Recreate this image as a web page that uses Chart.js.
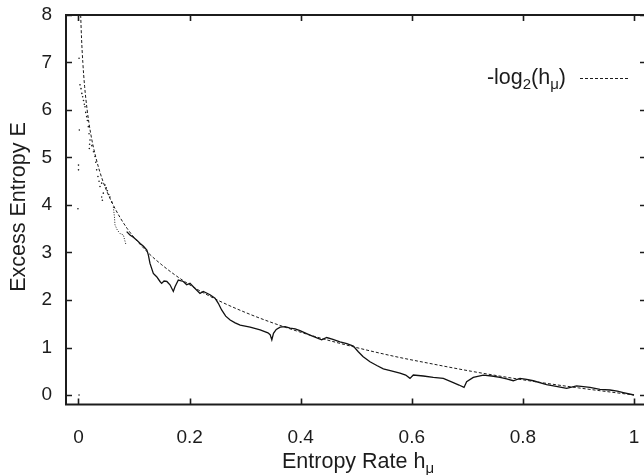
<!DOCTYPE html>
<html>
<head>
<meta charset="utf-8">
<script src="https://cdn.jsdelivr.net/npm/chart.js@4.4.1/dist/chart.umd.min.js"></script>
<style>
html,body{margin:0;padding:0;background:#fff;overflow:hidden;}
#wrap{width:650px;height:475px;}
</style>
</head>
<body>
<div id="wrap"><canvas id="c" width="650" height="475"></canvas></div>
<script>
// ---- data ----
const xTicks = [0, 0.2, 0.4, 0.6, 0.8, 1];
const yTicks = [0, 1, 2, 3, 4, 5, 6, 7, 8];

// -log2(h) reference curve (dashed)
const logX = [0.0039,0.0055,0.0078,0.011,0.0156,0.022,0.03125,0.044,0.0625,0.088,0.125,0.15,0.177,0.21,0.25,0.3,0.354,0.42,0.5,0.57,0.63,0.707,0.8,0.9,1.0];
const logY = [8,7.5,7,6.5,6,5.5,5,4.5,4,3.5,3,2.74,2.5,2.25,2,1.74,1.5,1.25,1,0.81,0.67,0.5,0.32,0.15,0];

// scattered points at small entropy rate
const dotX = [0.001,0.0027,0.0045,0.006,0.0075,0.009,0.0105,0.0117,0.013,0.0147,0.016,0.0177,0.019,0.0207,0.0195,0.02,0.024,0.027,0.0297,0.031,0.0327,0.035,0.037,0.0387,0.0417,0.043,0.0417,0.0447,0.0477,0.05,0.052,0.0545,0.0567,0.06,0.0015,0.0,0.0,-0.001,0.001];
const dotY = [7.09,6.53,6.45,6.35,6.28,6.2,6.12,6.07,5.95,5.86,5.78,5.65,5.5,5.37,5.19,5.28,5.25,5.12,5.02,4.9,4.74,4.6,4.5,4.39,4.17,4.1,4.46,4.25,4.42,4.36,4.3,4.22,4.17,4.06,5.58,4.84,4.74,3.92,0.0];

// thin branch
const branchX = [0.0627,0.0647,0.0657,0.07,0.0747,0.0807,0.0855];
const branchY = [3.96,3.75,3.58,3.47,3.40,3.37,3.16];

// main E(h) curve
const curveX = [0.0867,0.0927,0.0987,0.105,0.111,0.117,0.123,0.1257,0.1287,0.1347,0.1407,0.1467,0.1497,0.154,0.159,0.1647,0.1707,0.1737,0.1797,0.1887,0.1947,0.2007,0.2067,0.2187,0.2247,0.2367,0.2457,0.2517,0.2577,0.265,0.273,0.282,0.291,0.309,0.327,0.341,0.345,0.348,0.351,0.356,0.363,0.372,0.381,0.39,0.3987,0.4167,0.4378,0.4468,0.458,0.4707,0.483,0.4947,0.5037,0.512,0.5247,0.537,0.5487,0.563,0.5787,0.589,0.5967,0.6027,0.6207,0.6387,0.6567,0.6747,0.685,0.694,0.6987,0.7107,0.7287,0.744,0.7587,0.7707,0.7827,0.7947,0.8067,0.8187,0.8427,0.86,0.8787,0.8967,0.9207,0.9387,0.9567,0.97,0.9807,1.0];
const curveY = [3.44,3.37,3.32,3.26,3.19,3.13,3.05,2.95,2.77,2.56,2.49,2.39,2.35,2.40,2.39,2.32,2.18,2.28,2.42,2.39,2.32,2.35,2.28,2.14,2.18,2.11,2.04,1.93,1.79,1.66,1.58,1.52,1.47,1.43,1.37,1.31,1.27,1.16,1.30,1.38,1.43,1.44,1.41,1.39,1.354,1.26,1.16,1.21,1.17,1.12,1.08,1.03,0.91,0.81,0.70,0.62,0.55,0.51,0.46,0.42,0.35,0.42,0.40,0.37,0.35,0.26,0.21,0.16,0.28,0.37,0.42,0.40,0.37,0.34,0.30,0.35,0.33,0.30,0.22,0.18,0.14,0.19,0.16,0.12,0.105,0.08,0.05,0.0];

const xMin = -0.0225, xMax = 1.0216, yMin = -0.2, yMax = 8;

const pts = (xs, ys) => xs.map((x, i) => ({x, y: ys[i]}));
const FONT = '"Liberation Sans", Arial, Helvetica, sans-serif';
const INK = '#1c1c1c';
const TICK_SIZE = 19;
const TITLE_SIZE = 21.5;
const SUB_SIZE = 15;

function zeroPad(s) { s.paddingLeft = 0; s.paddingRight = 0; s.paddingTop = 0; s.paddingBottom = 0; }

const framePlugin = {
  id: 'frame',
  afterDraw(chart) {
    const {ctx, chartArea: a, scales: {x, y}} = chart;
    ctx.save();
    ctx.strokeStyle = INK;
    ctx.lineWidth = 2;
    ctx.strokeRect(a.left, a.top, a.right - a.left, a.bottom - a.top);
    ctx.lineWidth = 1.6;
    const tl = 6;
    ctx.beginPath();
    xTicks.forEach(v => {
      const px = Math.round(x.getPixelForValue(v)) + 0.5;
      ctx.moveTo(px, a.bottom); ctx.lineTo(px, a.bottom - tl);
      ctx.moveTo(px, a.top); ctx.lineTo(px, a.top + tl);
    });
    yTicks.forEach(v => {
      const py = Math.round(y.getPixelForValue(v)) + 0.5;
      ctx.moveTo(a.left, py); ctx.lineTo(a.left + tl, py);
      ctx.moveTo(a.right, py); ctx.lineTo(a.right - tl, py);
    });
    ctx.stroke();

    function runs(parts) {
      return parts.map(p => {
        ctx.font = (p.s ? SUB_SIZE : TITLE_SIZE) + 'px ' + FONT;
        return Object.assign({w: ctx.measureText(p.t).width}, p);
      });
    }
    function drawRuns(rs, x0, yb) {
      let xx = x0;
      rs.forEach(r => {
        ctx.font = (r.s ? SUB_SIZE : TITLE_SIZE) + 'px ' + FONT;
        ctx.fillText(r.t, xx, yb + (r.s ? 5 : 0));
        xx += r.w;
      });
    }
    ctx.fillStyle = INK;
    ctx.textBaseline = 'alphabetic';
    ctx.textAlign = 'left';

    // x axis title
    const xr = runs([{t:'Entropy Rate h'},{t:'\u03bc', s:1}]);
    drawRuns(xr, 282, 468);

    // y axis title
    ctx.save();
    ctx.translate(25, 207);
    ctx.rotate(-Math.PI / 2);
    ctx.font = TITLE_SIZE + 'px ' + FONT;
    ctx.textAlign = 'center';
    ctx.fillText('Excess Entropy E', 0, 0);
    ctx.restore();

    // legend
    const lr = runs([{t:'-log'},{t:'2', s:1},{t:'(h'},{t:'\u03bc', s:1},{t:')'}]);
    const lw = lr.reduce((s, r) => s + r.w, 0);
    drawRuns(lr, 566 - lw, 84);
    ctx.strokeStyle = INK;
    ctx.lineWidth = 1;
    ctx.setLineDash([3, 2]);
    ctx.beginPath();
    ctx.moveTo(580, 78.5); ctx.lineTo(630, 78.5);
    ctx.stroke();
    ctx.restore();
  }
};

new Chart(document.getElementById('c'), {
  type: 'scatter',
  data: {
    datasets: [
      {
        label: '-log2(h)',
        data: pts(logX, logY),
        showLine: true,
        borderColor: INK,
        borderWidth: 1,
        borderDash: [3, 2],
        pointRadius: 0,
        cubicInterpolationMode: 'monotone'
      },
      {
        label: 'dots',
        data: pts(dotX, dotY),
        showLine: false,
        pointRadius: 0.8,
        pointBorderWidth: 0,
        pointBackgroundColor: INK
      },
      {
        label: 'branch',
        data: pts(branchX, branchY),
        showLine: true,
        borderColor: INK,
        borderWidth: 1,
        borderDash: [1, 1.5],
        pointRadius: 0
      },
      {
        label: 'E',
        data: pts(curveX, curveY),
        showLine: true,
        borderColor: '#111',
        borderWidth: 1.3,
        pointRadius: 0
      }
    ]
  },
  options: {
    responsive: false,
    animation: false,
    events: [],
    layout: {padding: {left: 0, top: 15, right: 4, bottom: 0}},
    plugins: {legend: {display: false}, tooltip: {enabled: false}},
    scales: {
      x: {
        type: 'linear', min: xMin, max: xMax,
        grid: {display: false}, border: {display: false},
        afterFit(s) { s.height = 70.5; zeroPad(s); },
        afterBuildTicks(s) { s.ticks = xTicks.map(v => ({value: v})); },
        ticks: {
          padding: 14, color: INK, maxRotation: 0, autoSkip: false,
          font: {family: FONT, size: TICK_SIZE},
          callback: v => String(v)
        }
      },
      y: {
        type: 'linear', min: yMin, max: yMax,
        grid: {display: false}, border: {display: false},
        afterFit(s) { s.width = 66; zeroPad(s); },
        afterBuildTicks(s) { s.ticks = yTicks.map(v => ({value: v})); },
        ticks: {
          padding: 6, color: INK, autoSkip: false,
          font: {family: FONT, size: TICK_SIZE},
          callback: v => String(v)
        }
      }
    }
  },
  plugins: [framePlugin]
});
</script>
</body>
</html>
